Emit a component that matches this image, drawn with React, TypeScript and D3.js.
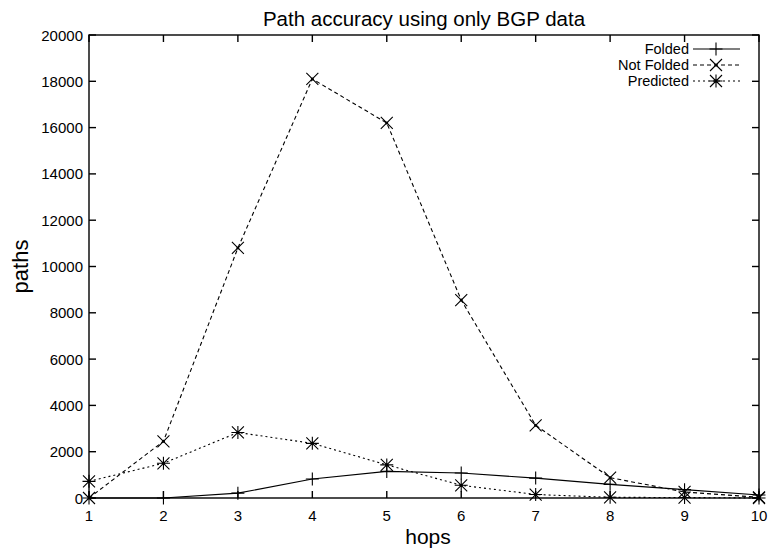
import React from "react";
import * as d3 from "d3";

const hops = [1, 2, 3, 4, 5, 6, 7, 8, 9, 10];
const folded = [0, 0, 210, 820, 1150, 1080, 860, 590, 360, 130];
const notFolded = [0, 2450, 10800, 18100, 16200, 8550, 3140, 880, 260, 30];
const predicted = [720, 1500, 2830, 2360, 1430, 550, 150, 30, 20, 0];
const yTicks = [0, 2000, 4000, 6000, 8000, 10000, 12000, 14000, 16000, 18000, 20000];

const W = 768;
const H = 548;
const font = "'Liberation Sans', Arial, Helvetica, sans-serif";

const x = d3.scaleLinear().domain([1, 10]).range([89, 759]);
const y = d3.scaleLinear().domain([0, 20000]).range([498, 35]);

type Kind = "plus" | "cross" | "star";

const Marker = ({ cx, cy, kind }: { cx: number; cy: number; kind: Kind }) => {
  const s = 6.5;
  const d = 6;
  const plus = `M${cx - s},${cy}H${cx + s}M${cx},${cy - s}V${cy + s}`;
  const cross = `M${cx - d},${cy - d}L${cx + d},${cy + d}M${cx - d},${cy + d}L${cx + d},${cy - d}`;
  const path = kind === "plus" ? plus : kind === "cross" ? cross : plus + cross;
  return (
    <g>
      <path d={path} stroke="#000" strokeWidth={1.1} fill="none" />
      {kind !== "plus" && <circle cx={cx} cy={cy} r={1.5} fill="#000" />}
    </g>
  );
};

const series: { name: string; values: number[]; kind: Kind; dash?: string }[] = [
  { name: "Folded", values: folded, kind: "plus" },
  { name: "Not Folded", values: notFolded, kind: "cross", dash: "4,3" },
  { name: "Predicted", values: predicted, kind: "star", dash: "2,3" },
];

export default function App() {
  const line = d3
    .line<number>()
    .x((_, i) => x(hops[i]))
    .y((v) => y(v));
  const [x0, x1] = x.range();
  const [y0, y1] = y.range();
  const tl = 7;
  return (
    <svg width={W} height={H} style={{ position: "absolute", left: 0, top: 0 }} fontFamily={font}>
      <rect width={W} height={H} fill="#fff" />
      {/* ticks */}
      {yTicks.map((t) => (
        <g key={"y" + t}>
          <line x1={x0} x2={x0 + tl} y1={y(t)} y2={y(t)} stroke="#000" strokeWidth={1.4} />
          <line x1={x1} x2={x1 - tl} y1={y(t)} y2={y(t)} stroke="#000" strokeWidth={1.4} />
          <text x={83} y={y(t) + 5.5} textAnchor="end" fontSize={15}>
            {t}
          </text>
        </g>
      ))}
      {hops.map((h) => (
        <g key={"x" + h}>
          <line x1={x(h)} x2={x(h)} y1={y0} y2={y0 - tl} stroke="#000" strokeWidth={1.4} />
          <line x1={x(h)} x2={x(h)} y1={y1} y2={y1 + tl} stroke="#000" strokeWidth={1.4} />
          <text x={x(h)} y={521} textAnchor="middle" fontSize={15}>
            {h}
          </text>
        </g>
      ))}
      {series.map((s) => (
        <g key={s.name}>
          <path d={line(s.values) || ""} fill="none" stroke="#000" strokeWidth={1.1} strokeDasharray={s.dash} />
          {s.values.map((v, i) => (
            <Marker key={i} cx={x(hops[i])} cy={y(v)} kind={s.kind} />
          ))}
        </g>
      ))}
      <rect x={x0} y={y1} width={x1 - x0} height={y0 - y1} fill="none" stroke="#000" strokeWidth={1.4} />
      {/* legend */}
      {series.map((s, i) => {
        const ly = 49 + i * 16;
        return (
          <g key={"l" + s.name}>
            <text x={689} y={ly + 5} textAnchor="end" fontSize={14.5}>
              {s.name}
            </text>
            <line x1={693} x2={740} y1={ly} y2={ly} stroke="#000" strokeWidth={1.1} strokeDasharray={s.dash} />
            <Marker cx={716} cy={ly} kind={s.kind} />
          </g>
        );
      })}
      <text x={424} y={26} textAnchor="middle" fontSize={20.5}>
        Path accuracy using only BGP data
      </text>
      <text x={428} y={544} textAnchor="middle" fontSize={21}>
        hops
      </text>
      <text transform={`translate(28,${(y0 + y1) / 2}) rotate(-90)`} textAnchor="middle" fontSize={22}>
        paths
      </text>
    </svg>
  );
}
